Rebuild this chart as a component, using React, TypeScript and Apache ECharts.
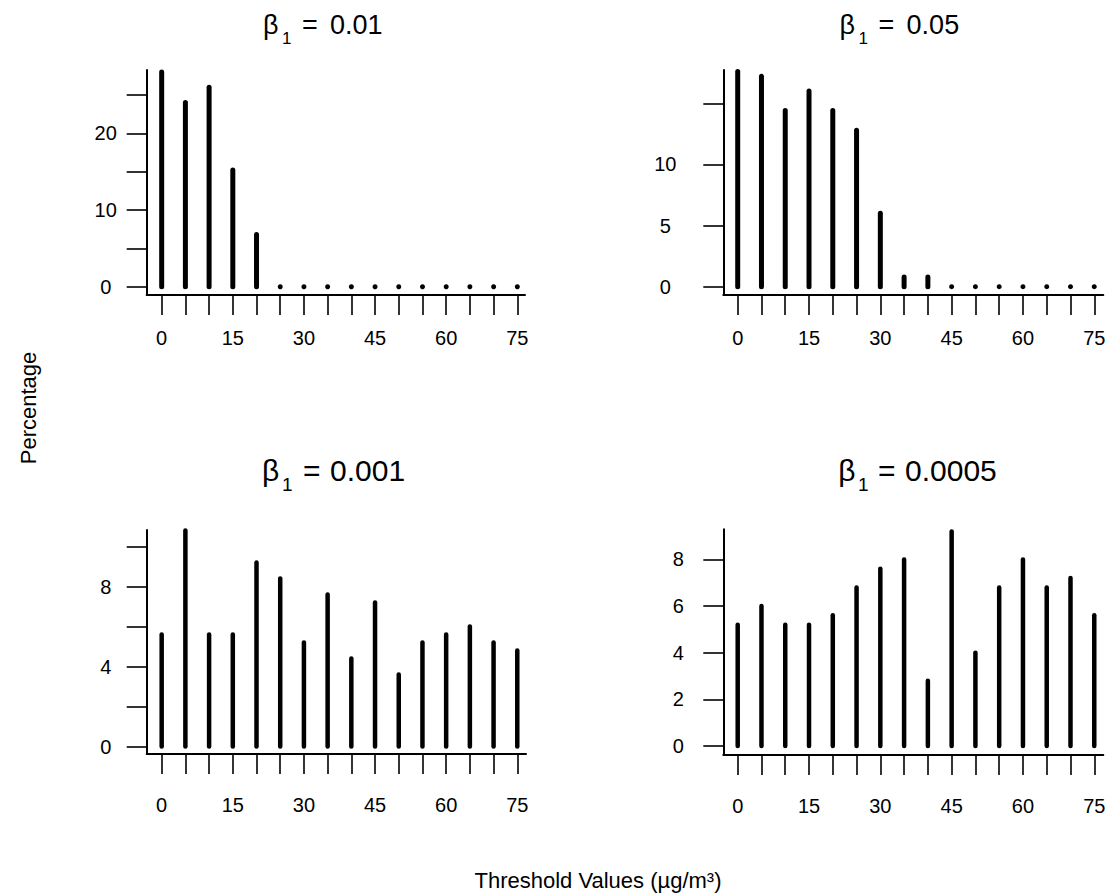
import React, { useEffect, useRef } from "react";
import * as echarts from "echarts";

// Threshold values (µg/m³) on the horizontal axis
const thresholds = [0, 5, 10, 15, 20, 25, 30, 35, 40, 45, 50, 55, 60, 65, 70, 75];
const xTickLabels = [0, 15, 30, 45, 60, 75];

// Percentage of selections at each threshold, one list per β1
const pctBeta0_01 = [28.0, 24.0, 26.0, 15.2, 6.8, 0, 0, 0, 0, 0, 0, 0, 0, 0, 0, 0];
const pctBeta0_05 = [17.6, 17.2, 14.4, 16.0, 14.4, 12.8, 6.0, 0.8, 0.8, 0, 0, 0, 0, 0, 0, 0];
const pctBeta0_001 = [5.6, 10.8, 5.6, 5.6, 9.2, 8.4, 5.2, 7.6, 4.4, 7.2, 3.6, 5.2, 5.6, 6.0, 5.2, 4.8];
const pctBeta0_0005 = [5.2, 6.0, 5.2, 5.2, 5.6, 6.8, 7.6, 8.0, 2.8, 9.2, 4.0, 6.8, 8.0, 6.8, 7.2, 5.6];

// y tick positions and the subset that carries labels
const yTicks0_01 = [0, 5, 10, 15, 20, 25];
const yLabels0_01 = [0, 10, 20];
const yTicks0_05 = [0, 5, 10, 15];
const yLabels0_05 = [0, 5, 10];
const yTicks0_001 = [0, 2, 4, 6, 8, 10];
const yLabels0_001 = [0, 4, 8];
const yTicks0_0005 = [0, 2, 4, 6, 8];
const yLabels0_0005 = [0, 2, 4, 6, 8];

const betaLabels = ["0.01", "0.05", "0.001", "0.0005"];

const FONT = '"Liberation Sans", Arial, Helvetica, sans-serif';

type Panel = {
  values: number[];
  yTicks: number[];
  yLabels: number[];
  grid: { left: number; top: number; width: number; height: number };
  yMin: number;
  yMax: number;
  xMin: number;
  xMax: number;
  yLabelMargin: number;
  xLabelMargin: number;
  barWidth: number;
  title: { x: number; y: number; size: number; subSize: number; subX: number; eqX: number; numX: number; subDy: number };
};

const panels: Panel[] = [
  {
    values: pctBeta0_01,
    yTicks: yTicks0_01,
    yLabels: yLabels0_01,
    grid: { left: 146.7, top: 70, width: 378.3, height: 225 },
    yMin: -1.08,
    yMax: 28.25,
    xMin: -3.16,
    xMax: 76.62,
    yLabelMargin: 41,
    xLabelMargin: 43,
    barWidth: 5,
    title: { x: 263, y: 25, size: 27, subSize: 17, subX: 282, eqX: 302, numX: 330, subDy: 13 },
  },
  {
    values: pctBeta0_05,
    yTicks: yTicks0_05,
    yLabels: yLabels0_05,
    grid: { left: 723.3, top: 70, width: 380, height: 225 },
    yMin: -0.68,
    yMax: 17.72,
    xMin: -3.03,
    xMax: 76.9,
    yLabelMargin: 58,
    xLabelMargin: 43,
    barWidth: 5,
    title: { x: 839.6, y: 25, size: 27, subSize: 17, subX: 858.6, eqX: 878.6, numX: 906.6, subDy: 13 },
  },
  {
    values: pctBeta0_001,
    yTicks: yTicks0_001,
    yLabels: yLabels0_001,
    grid: { left: 146.7, top: 530, width: 379.3, height: 224 },
    yMin: -0.37,
    yMax: 10.83,
    xMin: -3.16,
    xMax: 76.84,
    yLabelMargin: 41,
    xLabelMargin: 51,
    barWidth: 4.5,
    title: { x: 262, y: 470, size: 30, subSize: 19, subX: 282, eqX: 303, numX: 330, subDy: 14 },
  },
  {
    values: pctBeta0_0005,
    yTicks: yTicks0_0005,
    yLabels: yLabels0_0005,
    grid: { left: 723.3, top: 529.3, width: 380, height: 225.7 },
    yMin: -0.386,
    yMax: 9.29,
    xMin: -3.03,
    xMax: 76.9,
    yLabelMargin: 45,
    xLabelMargin: 51,
    barWidth: 4.5,
    title: { x: 838.3, y: 470, size: 30, subSize: 19, subX: 858, eqX: 878, numX: 905, subDy: 14 },
  },
];

function textEl(text: string, x: number, y: number, size: number, extra: any = {}) {
  return {
    type: "text",
    x,
    y,
    ...extra,
    style: {
      text,
      fill: "#000",
      fontSize: size,
      fontFamily: FONT,
      align: extra.align || "left",
      textAlign: extra.align || "left",
      verticalAlign: "middle",
      textVerticalAlign: "middle",
    },
  };
}

export default function App() {
  const ref = useRef<HTMLDivElement>(null);

  useEffect(() => {
    if (!ref.current) return;
    const chart = echarts.init(ref.current, undefined, { renderer: "svg" });

    const grids = panels.map((p) => ({ ...p.grid, containLabel: false, outerBoundsMode: "none" }));

    const xAxes = panels.map((p, i) => ({
      type: "value",
      gridIndex: i,
      min: p.xMin,
      max: p.xMax,
      axisLine: { show: true, onZero: false, lineStyle: { color: "#000", width: 2 } },
      axisTick: {
        show: true,
        inside: false,
        length: 20,
        customValues: thresholds,
        lineStyle: { color: "#000", width: 1.6 },
      },
      axisLabel: {
        show: true,
        customValues: xTickLabels,
        margin: p.xLabelMargin,
        verticalAlign: "middle",
        color: "#000",
        fontSize: 20,
        fontFamily: FONT,
      },
      splitLine: { show: false },
    }));

    const yAxes = panels.map((p, i) => ({
      type: "value",
      gridIndex: i,
      min: p.yMin,
      max: p.yMax,
      axisLine: { show: true, onZero: false, lineStyle: { color: "#000", width: 2 } },
      axisTick: {
        show: true,
        inside: false,
        length: 20,
        customValues: p.yTicks,
        lineStyle: { color: "#000", width: 1.6 },
      },
      axisLabel: {
        show: true,
        customValues: p.yLabels,
        margin: p.yLabelMargin,
        align: "center",
        color: "#000",
        fontSize: 20,
        fontFamily: FONT,
      },
      splitLine: { show: false },
    }));

    const series = panels.map((p, i) => ({
      type: "custom",
      xAxisIndex: i,
      yAxisIndex: i,
      data: thresholds.map((t, k) => [t, p.values[k]]),
      renderItem: (_params: any, api: any) => {
        const x = api.value(0);
        const v = api.value(1);
        const base = api.coord([x, 0]);
        if (!v) {
          return {
            type: "circle",
            shape: { cx: base[0], cy: base[1], r: p.barWidth / 2 },
            style: { fill: "#000" },
          };
        }
        const top = api.coord([x, v]);
        return {
          type: "line",
          shape: { x1: base[0], y1: base[1], x2: top[0], y2: top[1] },
          style: { stroke: "#000", lineWidth: p.barWidth, lineCap: "round" },
        };
      },
    }));

    const titleEls: any[] = [];
    panels.forEach((p, i) => {
      const t = p.title;
      titleEls.push(textEl("β", t.x, t.y, t.size));
      titleEls.push(textEl("1", t.subX, t.y + t.subDy, t.subSize));
      titleEls.push(textEl("=", t.eqX, t.y, t.size));
      titleEls.push(textEl(betaLabels[i], t.numX, t.y, t.size));
    });

    chart.setOption({
      animation: false,
      backgroundColor: "#fff",
      grid: grids,
      xAxis: xAxes,
      yAxis: yAxes,
      series,
      graphic: {
        elements: [
          ...titleEls,
          textEl("Percentage", 28, 408, 22, { rotation: Math.PI / 2, align: "center" }),
          textEl("Threshold Values (µg/m³)", 598, 880, 22, { align: "center" }),
        ],
      },
    });

    return () => chart.dispose();
  }, []);

  return (
    <div
      ref={ref}
      style={{ position: "absolute", left: 0, top: 0, width: 1114, height: 896, background: "#fff" }}
    />
  );
}
